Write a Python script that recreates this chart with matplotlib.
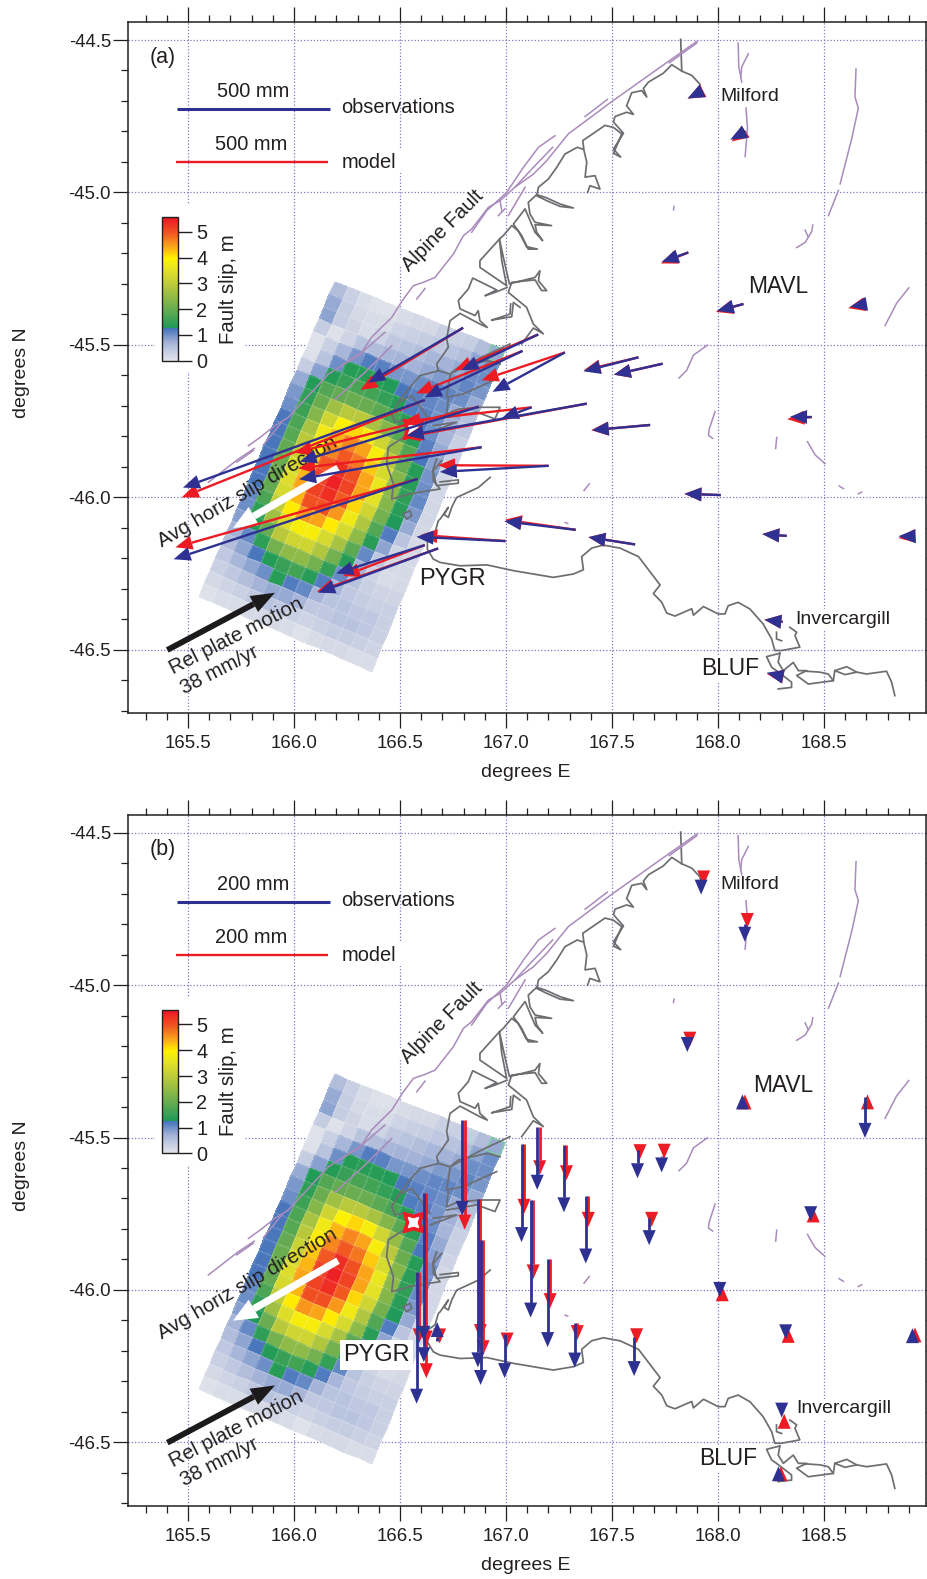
import numpy as np
import matplotlib
matplotlib.use("Agg")
from matplotlib import pyplot as plt
from matplotlib.colors import LinearSegmentedColormap
from matplotlib.lines import Line2D
from matplotlib.patches import Polygon, Rectangle
from matplotlib.ticker import MultipleLocator, FormatStrFormatter
from matplotlib.transforms import IdentityTransform

plt.rcParams['font.family'] = ['Liberation Sans', 'DejaVu Sans']
plt.rcParams['axes.unicode_minus'] = False

INK = '#231f20'
NAVY = '#2e3192'
RED = '#ed1c24'
COAST = '#6d6e71'
FAULT = '#a98bbb'
GRID = '#8078c4'

# station positions, degrees
stn_lon = [167.860, 168.120, 168.698, 167.625, 167.739, 167.680, 168.442, 168.013, 167.329, 167.609,
	168.324, 168.922, 168.305, 168.290, 167.925, 168.131, 166.798, 167.152, 167.078, 167.278,
	167.121, 167.381, 166.872, 166.885, 166.617, 166.583, 167.201, 166.998, 166.680, 166.617]
stn_lat = [-45.197, -45.366, -45.366, -45.541, -45.562, -45.763, -45.737, -45.993, -46.107, -46.155,
	-46.127, -46.128, -46.409, -46.586, -44.668, -44.800, -45.444, -45.466, -45.520, -45.525,
	-45.705, -45.693, -45.703, -45.836, -45.681, -45.940, -45.897, -46.144, -46.168, -46.157]

# panel a: horizontal displacement, mm
obs_e = [-87, -87, -52, -180, -160, -191, -71, -119, -234, -153, -80, -49, -60, -42, -48, -51,
	-311, -251, -320, -237, -98, -590, -587, -598, -792, -799, -356, -292, -393, -290]
obs_n = [-31, -23, -9, -46, -36, -17, 1, 4, 28, 24, 6, 0, 7, 10, -24, -27,
	-180, -117, -152, -129, -36, -105, -180, -105, -287, -263, -20, 14, -145, -93]
mod_e = [-90, -90, -58, -180, -160, -193, -80, -119, -232, -153, -80, -49, -60, -42, -46, -46,
	-336, -273, -348, -273, -421, -601, -603, -601, -796, -793, -362, -279, -397, -268]
mod_n = [-36, -26, -14, -43, -36, -17, -7, 4, 33, 24, 6, -6, 7, 7, -24, -33,
	-204, -117, -139, -91, -47, -111, -151, -69, -319, -224, 2, 20, -142, -102]

# panel b: vertical displacement, mm
obs_u = [-9, 3, -54, -37, -21, -36, -15, -12, -59, -51, -14, 1, -4, 3, -14, -23,
	-125, -82, -129, -88, -154, -88, -220, -190, -222, -173, -116, -58, 25, -4]
mod_u = [-2, 3, 3, -12, -3, -12, 3, 2, -23, -8, 1, 2, 1, 3, -2, -5,
	-143, -63, -92, -46, -104, -40, -183, -151, -243, -94, -65, -18, -3, -10]

# fault slip in m, 25 rows down dip by 13 columns along strike
slip = [
	[.65, .40, .20, .13, .13, .20, .26, .26, .40, .40, .45, .65, .85],
	[.85, .45, .26, .20, .20, .33, .40, .45, .52, .58, .65, .90, 1.10],
	[.90, .45, .33, .20, .33, .52, .58, .65, .72, .78, .85, 1.10, 1.10],
	[.45, .13, .33, .58, .65, .72, .78, .78, .85, .98, 1.04, 1.17, 1.04],
	[.13, .40, .72, 1.04, 1.25, 1.20, 1.04, 1.04, 1.10, 1.17, 1.17, 1.10, .85],
	[.13, .58, 1.10, 1.40, 1.42, 1.42, 1.38, 1.30, 1.20, 1.17, 1.10, .85, .60],
	[.45, .95, 1.40, 1.60, 1.75, 1.70, 1.55, 1.40, 1.25, 1.20, 1.05, .80, .50],
	[.85, 1.38, 1.85, 2.00, 2.10, 2.10, 1.95, 1.75, 1.42, 1.25, 1.10, .75, .40],
	[1.00, 1.50, 2.10, 2.70, 3.00, 3.00, 2.80, 2.40, 1.90, 1.45, 1.20, .85, .40],
	[1.10, 1.65, 2.40, 3.30, 4.00, 4.20, 3.90, 3.30, 2.60, 1.85, 1.30, .95, .35],
	[1.30, 1.80, 2.80, 3.80, 4.40, 4.70, 4.50, 3.90, 3.00, 2.10, 1.42, 1.05, .30],
	[1.30, 1.90, 3.00, 4.10, 4.70, 5.00, 4.80, 4.30, 3.40, 2.40, 1.45, 1.10, .30],
	[1.30, 2.00, 3.20, 4.30, 5.00, 5.40, 5.10, 4.50, 3.70, 2.50, 1.50, 1.15, .30],
	[1.30, 2.10, 3.40, 4.40, 5.20, 5.50, 5.20, 4.50, 3.60, 2.40, 1.45, 1.00, .30],
	[1.30, 2.10, 3.50, 4.50, 5.20, 5.40, 5.00, 4.20, 3.30, 2.20, 1.35, .85, .30],
	[1.30, 2.00, 3.40, 4.40, 5.10, 5.10, 4.60, 3.80, 2.90, 1.85, 1.25, .55, .25],
	[1.15, 1.80, 3.10, 4.10, 4.60, 4.50, 4.10, 3.40, 2.50, 1.45, .90, .33, .25],
	[1.10, 1.50, 2.70, 3.50, 3.90, 3.90, 3.40, 2.80, 1.95, 1.15, .50, .25, .25],
	[.95, 1.38, 2.10, 3.00, 3.30, 3.30, 2.90, 2.20, 1.42, .78, .33, .20, .25],
	[.78, 1.15, 1.50, 2.20, 2.50, 2.50, 2.20, 1.55, 1.15, .58, .40, .33, .33],
	[.65, .90, 1.30, 1.40, 1.60, 1.70, 1.45, 1.25, .72, .52, .45, .40, .40],
	[.52, .72, .90, 1.10, 1.42, 1.25, 1.15, .78, .58, .58, .52, .52, .40],
	[.40, .52, .65, .78, .85, .85, .72, .52, .52, .58, .58, .52, .40],
	[.26, .33, .40, .52, .58, .52, .40, .33, .40, .45, .45, .40, .33],
	[.13, .20, .20, .26, .26, .26, .20, .13, .20, .26, .26, .20, .20],
]

# fault plane corners: top left, top right, bottom right, bottom left
plane_lon = [166.193, 166.995, 166.367, 165.552]
plane_lat = [-45.293, -45.517, -46.572, -46.326]

epicentre = (166.563, -45.776)

# coastline as (lon, lat) runs
coast = [
	[(167.824, -44.498), (167.829, -44.602), (167.876, -44.616), (167.915, -44.645), (167.923, -44.680)],
	[(167.829, -44.602), (167.782, -44.581), (167.742, -44.609), (167.672, -44.638), (167.648, -44.659), (167.664, -44.687),
		(167.640, -44.666), (167.593, -44.673), (167.569, -44.716), (167.601, -44.744), (167.569, -44.737), (167.514, -44.751),
		(167.507, -44.769), (167.554, -44.806), (167.507, -44.858), (167.541, -44.884), (167.507, -44.872), (167.546, -44.808),
		(167.507, -44.787), (167.467, -44.780), (167.396, -44.814), (167.362, -44.830), (167.368, -44.863), (167.381, -44.901),
		(167.373, -44.950), (167.420, -44.945), (167.443, -44.989), (167.396, -44.978), (167.385, -45.000)],
	[(167.362, -44.858), (167.336, -44.852), (167.278, -44.874), (167.239, -44.918), (167.200, -44.956), (167.153, -44.983),
		(167.145, -45.011), (167.192, -45.027), (167.255, -45.046), (167.318, -45.051), (167.255, -45.038), (167.192, -45.018),
		(167.145, -45.007), (167.105, -45.033), (167.113, -45.071), (167.137, -45.098), (167.215, -45.109), (167.137, -45.106),
		(167.145, -45.131), (167.173, -45.158), (167.137, -45.131), (167.090, -45.054), (167.035, -45.104), (167.074, -45.142),
		(167.105, -45.186), (167.148, -45.186), (167.097, -45.178), (167.058, -45.126), (167.027, -45.109), (166.987, -45.142),
		(166.972, -45.151), (166.877, -45.224), (166.877, -45.246), (167.003, -45.306), (166.980, -45.224), (166.969, -45.153),
		(166.991, -45.224), (167.016, -45.300), (167.137, -45.279), (167.160, -45.257), (167.153, -45.290), (167.192, -45.322),
		(167.168, -45.322), (167.137, -45.287), (167.027, -45.295), (167.011, -45.328), (167.097, -45.377), (167.129, -45.432),
		(167.176, -45.464), (167.129, -45.445), (167.074, -45.497)],
	[(167.066, -45.377), (167.035, -45.361), (167.027, -45.408), (166.932, -45.419), (166.972, -45.410), (167.019, -45.399), (167.022, -45.366)],
	[(167.005, -45.312), (166.948, -45.328), (166.901, -45.339), (166.956, -45.320), (166.843, -45.281), (166.822, -45.317),
		(166.775, -45.355), (166.783, -45.382), (166.854, -45.404), (166.869, -45.388), (166.877, -45.421), (166.912, -45.443),
		(166.877, -45.432), (166.783, -45.397), (166.736, -45.421), (166.720, -45.480), (166.728, -45.508), (166.673, -45.563),
		(166.681, -45.585), (166.595, -45.601), (166.547, -45.639), (166.492, -45.689), (166.461, -45.727), (166.477, -45.754),
		(166.516, -45.749)],
	[(166.492, -45.689), (166.555, -45.667), (166.591, -45.700), (166.642, -45.749)],
	[(166.516, -45.804), (166.445, -45.836), (166.437, -45.891), (166.469, -45.957), (166.461, -46.006), (166.547, -45.989),
		(166.642, -45.978), (166.689, -45.973), (166.657, -45.946), (166.657, -45.913), (166.697, -45.880)],
	[(166.681, -45.585), (166.736, -45.596), (166.885, -45.541), (167.019, -45.497)],
	[(166.736, -45.596), (166.775, -45.574), (166.909, -45.552), (166.972, -45.563)],
	[(166.736, -45.601), (166.720, -45.672), (166.799, -45.661), (166.956, -45.612)],
	[(166.728, -45.678), (166.720, -45.727), (166.775, -45.711), (166.878, -45.705), (166.972, -45.705), (166.948, -45.743),
		(166.862, -45.721), (166.720, -45.738)],
	[(166.642, -45.787), (166.767, -45.754), (166.657, -45.765)],
	[(166.673, -45.875), (166.654, -45.913), (166.673, -45.962), (166.775, -45.954), (166.775, -45.943), (166.689, -45.950)],
	[(166.925, -45.935), (166.870, -45.968), (166.767, -46.001), (166.744, -46.033), (166.728, -46.066), (166.708, -46.057),
		(166.728, -46.033), (166.689, -46.072), (166.681, -46.077), (166.665, -46.115), (166.629, -46.132), (166.629, -46.170),
		(166.657, -46.203), (166.689, -46.214), (166.783, -46.225), (166.909, -46.222), (167.035, -46.241), (167.223, -46.263),
		(167.318, -46.252), (167.365, -46.238), (167.357, -46.195), (167.404, -46.167), (167.459, -46.157), (167.538, -46.167),
		(167.625, -46.195), (167.727, -46.288), (167.695, -46.316), (167.735, -46.345), (167.758, -46.380), (167.797, -46.390),
		(167.876, -46.366), (167.884, -46.387), (167.931, -46.359), (167.938, -46.361), (168.001, -46.383), (168.033, -46.383),
		(168.048, -46.356), (168.095, -46.345), (168.151, -46.367), (168.213, -46.416), (168.253, -46.465), (168.268, -46.503),
		(168.300, -46.503), (168.386, -46.492), (168.363, -46.454), (168.371, -46.443), (168.339, -46.427)],
	[(168.276, -46.443), (168.276, -46.465), (168.300, -46.471)],
	[(168.292, -46.512), (168.229, -46.523), (168.253, -46.558), (168.276, -46.569), (168.347, -46.607), (168.347, -46.624), (168.284, -46.629)],
	[(168.292, -46.512), (168.284, -46.542), (168.308, -46.569), (168.355, -46.542), (168.379, -46.569), (168.418, -46.569),
		(168.371, -46.585), (168.426, -46.613), (168.544, -46.602), (168.520, -46.580), (168.481, -46.574), (168.418, -46.571)],
	[(168.544, -46.602), (168.551, -46.569), (168.607, -46.556), (168.654, -46.574), (168.701, -46.580), (168.795, -46.571),
		(168.819, -46.607), (168.834, -46.651)],
	[(168.551, -46.569), (168.599, -46.582), (168.654, -46.574)],
	[(166.516, -46.055), (166.547, -46.044), (166.555, -46.061), (166.531, -46.072), (166.516, -46.055)],
]

# mapped faults as (lon, lat) runs
faults = [
	[(168.095, -44.510), (168.098, -44.588), (168.112, -44.638)],
	[(168.143, -44.545), (168.112, -44.588), (168.107, -44.623)],
	[(168.132, -44.723), (168.139, -44.787), (168.128, -44.882)],
	[(168.651, -44.595), (168.646, -44.687), (168.662, -44.723), (168.631, -44.823), (168.576, -44.972)],
	[(168.568, -44.993), (168.521, -45.076)],
	[(168.447, -45.107), (168.442, -45.128), (168.411, -45.164), (168.371, -45.181)],
	[(168.411, -45.124), (168.426, -45.147)],
	[(168.900, -45.313), (168.843, -45.363), (168.788, -45.437)],
	[(167.950, -45.501), (167.884, -45.534), (167.852, -45.584), (167.816, -45.609)],
	[(167.986, -45.719), (167.959, -45.776), (167.955, -45.797), (167.975, -45.807)],
	[(168.277, -45.804), (168.272, -45.840)],
	[(168.422, -45.818), (168.458, -45.861), (168.505, -45.890)],
	[(168.571, -45.963), (168.592, -45.972)],
	[(168.662, -45.989), (168.678, -45.983)],
	[(167.393, -45.956), (167.368, -45.978)],
	[(167.279, -46.083), (167.291, -46.086)],
	[(167.793, -45.046), (167.790, -45.057)],
	# Alpine Fault
	[(167.903, -44.503), (167.758, -44.574), (167.499, -44.702), (167.294, -44.808), (167.192, -44.896), (167.129, -44.940),
		(167.042, -44.983), (166.972, -45.027), (166.917, -45.049), (166.838, -45.120), (166.799, -45.142), (166.752, -45.202),
		(166.665, -45.279), (166.610, -45.295), (166.563, -45.306), (166.516, -45.350), (166.461, -45.410), (166.366, -45.475),
		(166.319, -45.525), (166.225, -45.568), (166.162, -45.596), (166.068, -45.667), (165.973, -45.738), (165.910, -45.765),
		(165.840, -45.804), (165.785, -45.831)],
	[(167.900, -44.510), (167.770, -44.575)],
	[(167.478, -44.695), (167.373, -44.751)],
	[(167.231, -44.814), (167.153, -44.852), (167.082, -44.918), (167.003, -45.000), (166.909, -45.060), (166.838, -45.131)],
	[(167.220, -44.852), (167.129, -44.918), (167.042, -44.983)],
	[(167.090, -44.983), (167.011, -45.076)],
	[(166.995, -45.054), (166.964, -45.076)],
	[(166.972, -45.027), (166.980, -45.060)],
	[(166.618, -45.315), (166.579, -45.350)],
	[(166.429, -45.459), (166.366, -45.497), (166.303, -45.536), (166.225, -45.568)],
	[(166.461, -45.503), (166.335, -45.590), (166.193, -45.680)],
	[(165.855, -45.829), (165.942, -45.754)],
	[(165.813, -45.840), (165.737, -45.875), (165.596, -45.951)],
	[(165.808, -45.847), (165.730, -45.885)],
]

xlim = (165.2170, 168.9811)
ylim = (-46.708, -44.4409)
cb_ticks = [0, 1, 2, 3, 4, 5]

W, H = 928, 1579
PANEL_DY = 792.7

slip_cmap = LinearSegmentedColormap.from_list('slip', [
	(0.0, '#e6e7eb'), (0.4 / 5.56, '#c9d0e3'), (0.8 / 5.56, '#a0b0d6'), (1.33 / 5.56, '#4272ba'),
	(1.335 / 5.56, '#1e9a58'), (2 / 5.56, '#62aa52'), (3 / 5.56, '#b9c93c'), (3.6 / 5.56, '#e4e227'),
	(4.05 / 5.56, '#fff200'), (4.5 / 5.56, '#faa61a'), (5 / 5.56, '#f15a22'), (1.0, '#ed1c24')])


def px_rect(x0, y0, x1, y1):
	return [x0 / W, 1 - y1 / H, (x1 - x0) / W, (y1 - y0) / H]


def px2d(x, y):
	# layout position in top panel pixels to degrees
	return 165.5 + (x - 188) / 212.0, -44.5 - (y - 40) / 304.8


def arrow(ax, lon, lat, dx, dy, color, lw, head_l, head_w, shift=0, z=6):
	x0, y0 = ax.transData.transform((lon, lat))
	x0 += shift
	x1, y1 = x0 + dx, y0 + dy
	length = np.hypot(dx, dy)
	if length == 0:
		return
	ux, uy = dx / length, dy / length
	bx, by = x1 - ux * head_l, y1 - uy * head_l
	ident = IdentityTransform()
	if length > head_l:
		ax.add_line(Line2D([x0, bx], [y0, by], color=color, lw=lw, transform=ident, zorder=z, solid_capstyle='butt'))
	tri = [(x1, y1), (bx - uy * head_w / 2, by + ux * head_w / 2), (bx + uy * head_w / 2, by - ux * head_w / 2)]
	ax.add_patch(Polygon(tri, closed=True, fc=color, ec='none', transform=ident, zorder=z))


def make_panel(fig, top_px, tag, bar_mm, px_per_mm, labels):
	ax = fig.add_axes(px_rect(128, top_px, 926, top_px + 691))
	ax.set_xlim(xlim)
	ax.set_ylim(ylim)
	ax.set_autoscale_on(False)
	cy = top_px - 22

	ax.xaxis.set_major_locator(MultipleLocator(0.5))
	ax.xaxis.set_minor_locator(MultipleLocator(0.1))
	ax.yaxis.set_major_locator(MultipleLocator(0.5))
	ax.yaxis.set_minor_locator(MultipleLocator(0.1))
	ax.xaxis.set_major_formatter(FormatStrFormatter('%.1f'))
	ax.yaxis.set_major_formatter(FormatStrFormatter('%.1f'))
	ax.tick_params(which='major', direction='out', length=10.8, width=0.9, top=True, right=True, labelsize=13.4,
		colors=INK, pad=1.5)
	ax.tick_params(axis='x', which='major', pad=5)
	ax.tick_params(which='minor', direction='out', length=5, width=0.9, top=True, right=True, colors=INK)
	for s in ax.spines.values():
		s.set_linewidth(1.1)
		s.set_color(INK)
	ax.grid(True, which='major', color=GRID, lw=0.9, ls=(0, (1, 1.6)), zorder=0)
	ax.set_axisbelow(True)

	# cleared areas behind the colour bar and the model label
	x0, y0 = px2d(155, 372)
	x1, y1 = px2d(245, 205)
	ax.add_patch(Rectangle((x0, y0), x1 - x0, y1 - y0, fc='white', ec='none', zorder=1.5))
	x0, y0 = px2d(395, 173)
	x1, y1 = px2d(406, 148)
	ax.add_patch(Rectangle((x0, y0), x1 - x0, y1 - y0, fc='white', ec='none', zorder=1.5))

	# fault plane
	u = np.linspace(0, 1, 14)
	v = np.linspace(0, 1, 26)[:, None]
	X = (plane_lon[0] + (plane_lon[1] - plane_lon[0]) * u) * (1 - v) + (plane_lon[3] + (plane_lon[2] - plane_lon[3]) * u) * v
	Y = (plane_lat[0] + (plane_lat[1] - plane_lat[0]) * u) * (1 - v) + (plane_lat[3] + (plane_lat[2] - plane_lat[3]) * u) * v
	mesh = ax.pcolormesh(X, Y, np.array(slip), cmap=slip_cmap, vmin=0, vmax=5.56, shading='flat',
		edgecolors=(1, 1, 1, 0.12), linewidth=0.3, zorder=2)
	cell = [(X[0, 12], Y[0, 12]), (X[0, 13], Y[0, 13]), (X[1, 13], Y[1, 13]), (X[1, 12], Y[1, 12])]
	ax.add_patch(Polygon(cell, closed=True, fc='none', ec='#7fcba4', lw=1.1, zorder=2.2))

	for run in coast:
		ax.plot(*zip(*run), color=COAST, lw=1.25, zorder=3, solid_joinstyle='round')
	for run in faults:
		ax.plot(*zip(*run), color=FAULT, lw=1.1, zorder=3.2, solid_joinstyle='round')

	ax.plot(*epicentre, marker=(4, 1, 45), ms=21, mfc=RED, mec=RED, mew=1, zorder=3.5, ls='none')
	ax.plot(*epicentre, marker=(4, 1, 45), ms=11, mfc='white', mec='white', mew=0.5, zorder=3.6, ls='none')

	# arrows for slip direction and plate motion
	kw = dict(ha='center', va='center', fontsize=14.7, color=INK, zorder=3.8, rotation_mode='anchor')
	ax.text(*px2d(247, 491.5), 'Avg horiz slip direction', rotation=30, **kw)
	ax.text(*px2d(236.5, 636.5), 'Rel plate motion', rotation=27, **kw)
	ax.text(*px2d(220, 670), '38 mm/yr', rotation=27, **kw)
	ax.text(*labels['alpine'], 'Alpine Fault', rotation=45, ha='center', va='center', fontsize=14.5, color=INK,
		rotation_mode='anchor', zorder=2.8, bbox=dict(fc='white', ec='none', pad=1))

	fig.canvas.draw()
	tx, ty = ax.transData.transform(px2d(338, 468))
	hx, hy = ax.transData.transform(px2d(233, 528))
	lon, lat = px2d(338, 468)
	arrow(ax, lon, lat, hx - tx, hy - ty, 'white', 5.2, 24, 21, z=3.7)
	tx, ty = ax.transData.transform(px2d(167.3, 650))
	hx, hy = ax.transData.transform(px2d(275, 592.7))
	lon, lat = px2d(167.3, 650)
	arrow(ax, lon, lat, hx - tx, hy - ty, '#1c1a1b', 4.2, 24, 18, z=3.7)

	# station arrows
	if tag == '(a)':
		for i in range(len(stn_lon)):
			arrow(ax, stn_lon[i], stn_lat[i], mod_e[i] * px_per_mm, mod_n[i] * px_per_mm, RED, 1.7, 17, 14)
		for i in range(len(stn_lon)):
			arrow(ax, stn_lon[i], stn_lat[i], obs_e[i] * px_per_mm, obs_n[i] * px_per_mm, NAVY, 1.7, 17, 14, z=6.1)
	else:
		for i in range(len(stn_lon)):
			arrow(ax, stn_lon[i], stn_lat[i], 0, mod_u[i] * px_per_mm, RED, 2, 15, 13, shift=1.5)
		for i in range(len(stn_lon)):
			arrow(ax, stn_lon[i], stn_lat[i], 0, obs_u[i] * px_per_mm, NAVY, 2, 15, 13, shift=-1, z=6.1)

	# scale bars
	ax.plot(*zip(px2d(177.3, 109), px2d(330, 109)), color=NAVY, lw=2.2, zorder=4, solid_capstyle='butt')
	ax.plot(*zip(px2d(175.7, 162), px2d(328, 162)), color=RED, lw=1.7, zorder=4, solid_capstyle='butt')
	ax.text(*px2d(253, 91.5), '%d mm' % bar_mm, ha='center', va='center', fontsize=14.4, color=INK, zorder=4)
	ax.text(*px2d(251, 144.5), '%d mm' % bar_mm, ha='center', va='center', fontsize=14.4, color=INK, zorder=4)
	ax.text(*px2d(341.5, 107.5), 'observations', ha='left', va='center', fontsize=14.4, color=INK, zorder=4)
	ax.text(*px2d(342, 162.5), 'model', ha='left', va='center', fontsize=14.4, color=INK, zorder=4)
	ax.text(*px2d(150, 57), tag, ha='left', va='center', fontsize=15.5, color=INK, zorder=4)

	for name, size in [('Milford', 14), ('Invercargill', 14), ('MAVL', 16.4), ('BLUF', 16.4), ('PYGR', 17)]:
		if name == 'PYGR':
			box = dict(fc='white', ec='none', pad=2.5) if tag == '(b)' else None
			ax.text(*labels[name], name, ha='left', va='center', fontsize=size, color=INK, zorder=5, bbox=box)
		else:
			ax.text(*labels[name], name, ha='left', va='center', fontsize=size, color=INK, zorder=2.9,
				bbox=dict(fc='white', ec='none', pad=1))

	fig.text(22 / W, 1 - (372.5 + cy) / H, 'degrees N', rotation=90, ha='center', va='center', fontsize=14, color=INK)
	fig.text(525.5 / W, 1 - (772.5 + cy) / H, 'degrees E', ha='center', va='center', fontsize=14, color=INK)

	# colour bar
	cax = fig.add_axes(px_rect(161.7, 217.3 + cy, 178, 360.7 + cy))
	cb = fig.colorbar(mesh, cax=cax, ticks=cb_ticks)
	cb.ax.tick_params(length=10, width=1, labelsize=14.3, colors=INK, pad=3)
	cb.outline.set_linewidth(1.0)
	cb.outline.set_edgecolor(INK)
	cb.solids.set_edgecolor('face')
	fig.text(229 / W, 1 - (288.7 + cy) / H, 'Fault slip, m', rotation=90, ha='center', va='center', fontsize=14.7, color=INK)
	return ax


fig = plt.figure(figsize=(W / 100, H / 100), dpi=100)

labels_a = {
	'alpine': px2d(443, 230.7),
	'Milford': px2d(720.7, 96),
	'MAVL': px2d(748, 286),
	'Invercargill': px2d(795, 619),
	'BLUF': px2d(700.7, 668),
	'PYGR': px2d(419.3, 579),
}
labels_b = {
	'alpine': px2d(441.7, 230),
	'Milford': px2d(720, 91.5),
	'MAVL': px2d(752.7, 292.7),
	'Invercargill': px2d(796.7, 616),
	'BLUF': px2d(698.7, 665.6),
	'PYGR': px2d(343.3, 562.3),
}

make_panel(fig, 22, '(a)', 500, 152.7 / 500, labels_a)
make_panel(fig, 22 + PANEL_DY, '(b)', 200, 152.7 / 200, labels_b)

fig.savefig('out.png', dpi=100)
